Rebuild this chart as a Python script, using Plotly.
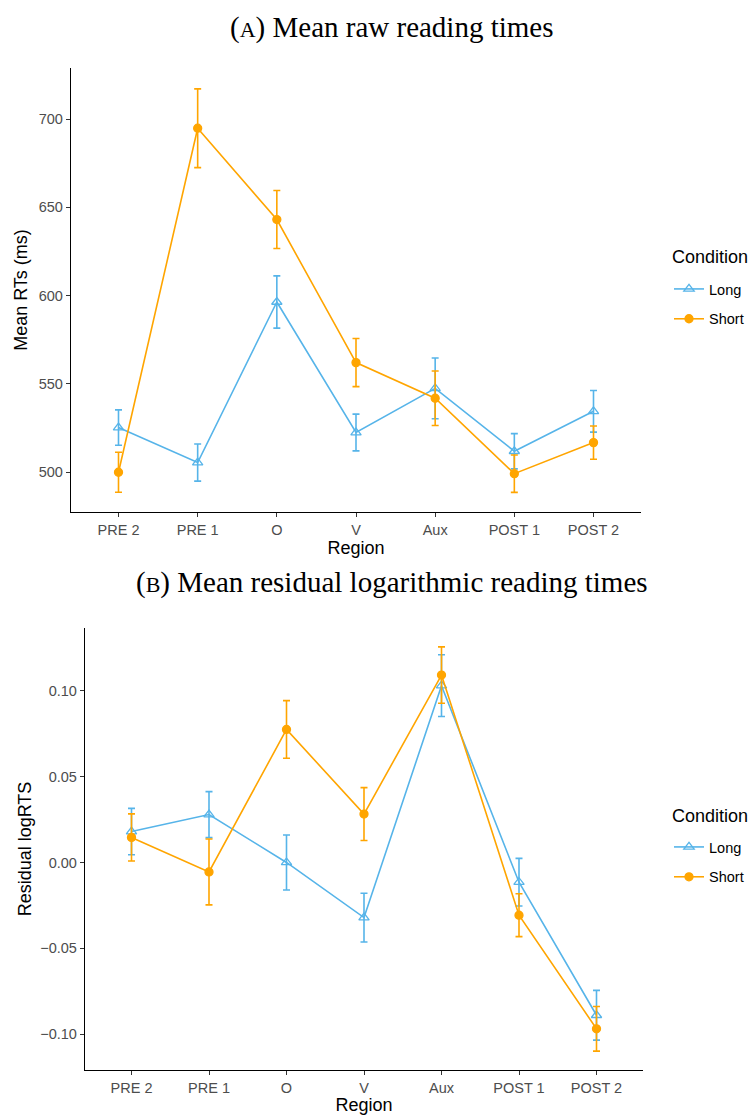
import plotly.graph_objects as go

regions = ["PRE 2", "PRE 1", "O", "V", "Aux", "POST 1", "POST 2"]

# Panel A: mean raw reading times (ms) and standard errors
raw_long_mean = [525.3, 505.5, 596.4, 522.5, 547.5, 511.9, 534.5]
raw_long_se = [10.0, 10.5, 14.8, 10.4, 17.2, 10.0, 11.8]
raw_short_mean = [500.0, 694.8, 643.1, 562.1, 541.9, 499.2, 516.8]
raw_short_se = [11.3, 22.3, 16.4, 13.6, 15.4, 10.6, 9.4]

# Panel B: mean residual log reading times and standard errors
res_long_mean = [0.0180, 0.0279, 0.0000, -0.0321, 0.1030, -0.0115, -0.0890]
res_long_se = [0.0135, 0.0134, 0.0160, 0.0142, 0.0180, 0.0139, 0.0145]
res_short_mean = [0.0146, -0.0055, 0.0775, 0.0282, 0.1092, -0.0307, -0.0969]
res_short_se = [0.0137, 0.0192, 0.0168, 0.0154, 0.0164, 0.0125, 0.0130]

BLUE = "#56B4E9"
ORANGE = "#FFA500"
W, H = 752, 1115
SANS = "Liberation Sans, Arial, sans-serif"
SERIF = "Liberation Serif, Times New Roman, serif"

fig = go.Figure()


def add_series(x_ax, y_ax, mean, se, name, color, symbol, size, legend):
    fig.add_trace(go.Scatter(
        x=regions, y=mean, name=name, mode="lines+markers",
        xaxis=x_ax, yaxis=y_ax,
        line=dict(color=color, width=1.6),
        marker=dict(symbol=symbol, size=size, color=color,
                    line=dict(color=color, width=1.3)),
        error_y=dict(type="data", array=se, visible=True, color=color,
                     thickness=1.6, width=3.5),
        legend=legend, legendgroup=name + legend, showlegend=True,
    ))


add_series("x", "y", raw_long_mean, raw_long_se, "Long", BLUE, "triangle-up-open", 9, "legend")
add_series("x", "y", raw_short_mean, raw_short_se, "Short", ORANGE, "circle", 8, "legend")
add_series("x2", "y2", res_long_mean, res_long_se, "Long", BLUE, "triangle-up-open", 9, "legend2")
add_series("x2", "y2", res_short_mean, res_short_se, "Short", ORANGE, "circle", 8, "legend2")

# pixel geometry
a_left, a_right, a_top, a_bot = 71, 641, 68, 512
b_left, b_right, b_top, b_bot = 85, 643, 628, 1070

axis_common = dict(
    showline=True, linecolor="black", linewidth=1.3, mirror=False,
    ticks="outside", ticklen=4, tickwidth=1.1, tickcolor="#333333",
    showgrid=False, zeroline=False,
    tickfont=dict(family=SANS, size=14.5, color="#4D4D4D"),
)


def legend_box(top_px):
    return dict(x=669 / W, y=1 - top_px / H, xanchor="left", yanchor="top",
                font=dict(size=14.5, color="black"), tracegroupgap=8,
                itemwidth=30, bgcolor="rgba(0,0,0,0)")


def text_ann(text, xpx, ypx, size, family, xanchor="center"):
    return dict(text=text, x=xpx / W, y=1 - ypx / H, xref="paper", yref="paper",
                xanchor=xanchor, yanchor="middle", showarrow=False,
                font=dict(family=family, size=size, color="black"))


fig.update_layout(
    width=W, height=H, margin=dict(l=0, r=0, t=0, b=0),
    paper_bgcolor="white", plot_bgcolor="white",
    font=dict(family=SANS),
    xaxis=dict(axis_common, domain=[a_left / W, a_right / W], anchor="y",
               type="category", range=[-0.6, 6.6],
               title=dict(text="Region", font=dict(size=18, color="black"), standoff=4)),
    yaxis=dict(axis_common, domain=[1 - a_bot / H, 1 - a_top / H], anchor="x",
               range=[477.5, 728.9], tickvals=[500, 550, 600, 650, 700],
               title=dict(text="Mean RTs (ms)", font=dict(size=18, color="black"), standoff=6)),
    xaxis2=dict(axis_common, domain=[b_left / W, b_right / W], anchor="y2",
                type="category", range=[-0.6, 6.6],
                title=dict(text="Region", font=dict(size=18, color="black"), standoff=4)),
    yaxis2=dict(axis_common, domain=[1 - b_bot / H, 1 - b_top / H], anchor="x2",
                range=[-0.1209, 0.1366], tickvals=[-0.10, -0.05, 0.0, 0.05, 0.10],
                ticktext=["\u22120.10", "\u22120.05", "0.00", "0.05", "0.10"],
                title=dict(text="Residual logRTS", font=dict(size=18, color="black"), standoff=3)),
    legend=legend_box(273),
    legend2=legend_box(831),
    annotations=[
        text_ann("(<span style='font-size:22px'>A</span>) Mean raw reading times",
                 392, 27, 29, SERIF),
        text_ann("(<span style='font-size:22px'>B</span>) Mean residual logarithmic reading times",
                 392, 582, 29, SERIF),
        text_ann("Condition", 670, 257, 18, SANS, "left"),
        text_ann("Condition", 670, 816, 18, SANS, "left"),
    ],
)

fig.write_html("out.html")
